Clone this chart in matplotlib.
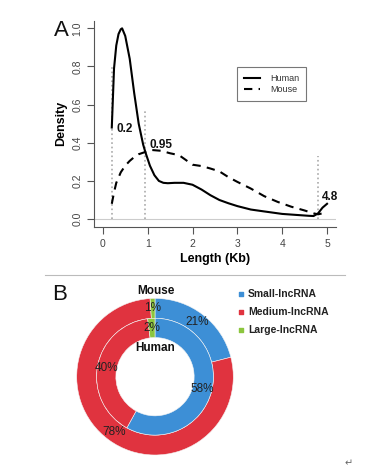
import matplotlib.pyplot as plt
import numpy as np

# Panel A: density curves
human_x = [0.2, 0.25, 0.3, 0.35, 0.4, 0.43, 0.5, 0.6, 0.7, 0.8, 0.9, 0.95, 1.05, 1.15, 1.25, 1.35, 1.45,
           1.6, 1.8, 2.0, 2.2, 2.4, 2.6, 2.8, 3.0, 3.3, 3.6, 4.0, 4.3, 4.6, 4.7, 4.8, 4.9, 5.0]
human_y = [0.48, 0.79, 0.91, 0.97, 0.995, 1.0, 0.96, 0.84, 0.66, 0.5, 0.39, 0.35, 0.28, 0.23, 0.2, 0.19, 0.188,
           0.19, 0.19, 0.18, 0.155, 0.125, 0.1, 0.083, 0.068, 0.05, 0.04, 0.027, 0.022, 0.017, 0.016, 0.03, 0.06, 0.08]
mouse_x = [0.2, 0.25, 0.3, 0.4, 0.5, 0.6, 0.7, 0.8, 0.95, 1.1, 1.3, 1.5, 1.7, 1.85, 2.0, 2.2, 2.4, 2.6,
           2.8, 3.0, 3.3, 3.6, 3.9, 4.2, 4.5, 4.7, 4.8, 4.9, 5.0]
mouse_y = [0.08, 0.14, 0.19, 0.245, 0.28, 0.305, 0.325, 0.34, 0.352, 0.362, 0.358, 0.345, 0.335, 0.31, 0.285, 0.278, 0.265, 0.25,
           0.22, 0.195, 0.16, 0.12, 0.09, 0.065, 0.045, 0.03, 0.025, 0.03, 0.04]
cutoffs = [0.2, 0.95, 4.8]
cutoff_tops = [0.81, 0.57, 0.33]
cutoff_labels = ["0.2", "0.95", "4.8"]
cutoff_label_pos = [(0.3, 0.47), (1.05, 0.39), (4.88, 0.115)]

# Panel B: donut percentages
categories = ["Small-lncRNA", "Medium-lncRNA", "Large-lncRNA"]
human_pct = [58, 40, 2]
mouse_pct = [21, 78, 1]
colors = ["#3d8fd6", "#e0333f", "#8cc63e"]

plt.rcParams['font.family'] = ['Liberation Sans', 'DejaVu Sans']

W, H = 389, 474
fig = plt.figure(figsize=(W / 100, H / 100), dpi=100)


def box(x0, y0, x1, y1):
    return [x0 / W, 1 - y1 / H, (x1 - x0) / W, (y1 - y0) / H]


# ---- A ----
ax = fig.add_axes(box(94.3, 20.7, 336, 226.7))
ax.set_xlim(-0.19, 5.2)
ax.set_ylim(-0.04, 1.04)
ax.axhline(0, color="#cccccc", lw=0.8, zorder=0)
for c, top in zip(cutoffs, cutoff_tops):
    ax.plot([c, c], [0, top], ls=":", color="#aaaaaa", lw=1.2, zorder=1)
ax.plot(human_x, human_y, color="black", lw=1.5, label="Human")
ax.plot(mouse_x, mouse_y, color="black", lw=1.5, ls=(0, (4, 3)), label="Mouse")
for t, (lx, ly) in zip(cutoff_labels, cutoff_label_pos):
    ax.text(lx, ly, t, fontsize=8.5, fontweight="bold", ha="left", va="center", color="#111111")

ax.spines["top"].set_visible(False)
ax.spines["right"].set_visible(False)
for s in ["left", "bottom"]:
    ax.spines[s].set_color("#555555")
    ax.spines[s].set_linewidth(0.8)
ax.set_xticks([0, 1, 2, 3, 4, 5])
ax.set_yticks([0.0, 0.2, 0.4, 0.6, 0.8, 1.0])
ax.set_yticklabels(["0.0", "0.2", "0.4", "0.6", "0.8", "1.0"], rotation=90, va="center")
ax.tick_params(length=5, width=0.8, color="#555555", labelcolor="#444444", labelsize=7.5)
ax.set_xlabel("Length (Kb)", fontsize=9, fontweight="bold", labelpad=3)
ax.set_ylabel("Density", fontsize=9, fontweight="bold", labelpad=4)
leg = ax.legend(loc="upper left", bbox_to_anchor=(237 / W, 1 - 67 / H), bbox_transform=fig.transFigure,
                borderaxespad=0, fancybox=False, edgecolor="#555555", fontsize=6.5, handlelength=1.8,
                handletextpad=1.1, borderpad=0.75, labelspacing=0.3, frameon=True)
leg.get_frame().set_linewidth(0.8)
for t in leg.get_texts():
    t.set_color("#333333")

# ---- B ----
R = 78.3
half = 95
bx = fig.add_axes(box(155 - half, 376.7 - half, 155 + half, 376.7 + half))
bx.pie(mouse_pct, radius=1, colors=colors, startangle=90, counterclock=False,
       wedgeprops=dict(width=0.254, edgecolor="#f4f4f4", linewidth=0.4),
       autopct=lambda p: f"{p:.0f}%", pctdistance=0.88,
       textprops=dict(fontsize=8.5, color="#222222"))
bx.pie(human_pct, radius=0.746, colors=colors, startangle=90, counterclock=False,
       wedgeprops=dict(width=0.246, edgecolor="#f4f4f4", linewidth=0.4),
       autopct=lambda p: f"{p:.0f}%", pctdistance=0.84,
       textprops=dict(fontsize=8.5, color="#222222"))
bx.set_xlim(-half / R, half / R)
bx.set_ylim(-half / R, half / R)
bx.axis("off")

# overlay for panel letters, labels, legend and separator
ov = fig.add_axes([0, 0, 1, 1], zorder=5)
ov.set_xlim(0, W)
ov.set_ylim(H, 0)
ov.axis("off")
ov.text(61, 30, "A", fontsize=16, ha="center", va="center", color="#111111")
ov.text(60, 294, "B", fontsize=16, ha="center", va="center", color="#111111")
ov.plot([45, 345], [275, 275], color="#bbbbbb", lw=0.8)
ov.text(156, 291, "Mouse", fontsize=8.5, fontweight="bold", ha="center", va="center", color="#111111")
ov.text(155, 348, "Human", fontsize=8.5, fontweight="bold", ha="center", va="center", color="#111111")
for i, (cat, col) in enumerate(zip(categories, colors)):
    y = 294 + i * 17.8
    ov.scatter([241], [y], marker="s", s=10, color=col)
    ov.text(248, y, cat, fontsize=7.5, fontweight="bold", ha="left", va="center", color="#222222")
ov.text(349, 463, "\u21b5", fontsize=7, ha="center", va="center", color="#666666", family=["DejaVu Sans"])

fig.savefig("out.png", dpi=100)
